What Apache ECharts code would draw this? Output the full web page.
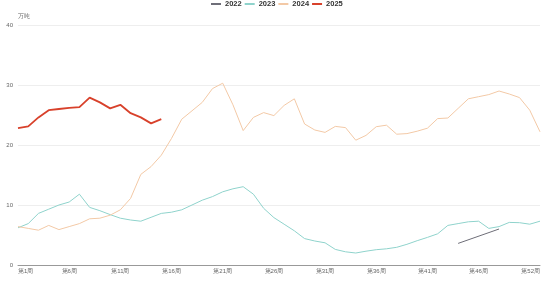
<!DOCTYPE html>
<html><head><meta charset="utf-8">
<script src="https://cdn.jsdelivr.net/npm/echarts@6/dist/echarts.min.js"></script>
<style>html,body{margin:0;padding:0;background:#fff}#c{width:553px;height:281px}</style>
</head><body><div id="c"></div>
<script>
var weeks = [];
for (var i = 1; i <= 52; i++) weeks.push('第' + i + '周');
var s2022 = [null,null,null,null,null,null,null,null,null,null,null,null,null,null,null,null,null,null,null,null,null,null,null,null,null,null,null,null,null,null,null,null,null,null,null,null,null,null,null,null,null,null,null,3.6,null,null,null,6.0,null,null,null,null];
var s2023 = [6.2,6.9,8.6,9.3,10.0,10.5,11.8,9.6,9.05,8.4,7.8,7.5,7.3,7.95,8.6,8.8,9.2,10.0,10.8,11.4,12.2,12.7,13.05,11.8,9.45,7.9,6.8,5.7,4.4,4.0,3.7,2.6,2.2,2.0,2.3,2.55,2.7,2.95,3.45,4.05,4.6,5.2,6.6,6.9,7.2,7.3,6.1,6.4,7.1,7.05,6.8,7.3];
var s2024 = [6.4,6.1,5.8,6.6,5.9,6.4,6.9,7.7,7.8,8.3,9.2,11.1,15.1,16.4,18.3,21.1,24.3,25.7,27.1,29.4,30.3,26.7,22.4,24.6,25.4,24.9,26.6,27.7,23.5,22.5,22.1,23.1,22.9,20.8,21.6,23.05,23.3,21.8,21.9,22.3,22.8,24.4,24.5,26.1,27.7,28.05,28.4,29.0,28.5,27.9,25.8,22.2];
var s2025 = [22.8,23.1,24.6,25.8,26.0,26.2,26.3,27.9,27.1,26.1,26.7,25.3,24.6,23.6,24.3];
var yTicks = [0,10,20,30,40];

var chart = echarts.init(document.getElementById('c'));
function mk(name, data, color, w) {
  return {name:name, type:'line', data:data, symbol:'none', showSymbol:false, connectNulls:true,
    lineStyle:{color:color, width:w}, itemStyle:{color:color}};
}
chart.setOption({
  animation:false,
  legend:{left:211, top:0, padding:0, itemWidth:10, itemHeight:2, itemGap:3, icon:'rect',
    textStyle:{fontSize:7.5, fontWeight:'bold', color:'#333', padding:[0,0,0,-1]},
    data:['2022','2023','2024','2025']},
  grid:{left:18, right:13, top:25, bottom:16, containLabel:false},
  xAxis:{type:'category', data:weeks, boundaryGap:false,
    axisLine:{lineStyle:{color:'#999'}}, axisTick:{show:false},
    axisLabel:{fontSize:6, color:'#666', margin:3,
      interval:function(i){return (i%5===0 && i!==50) || i===51;},
      alignMinLabel:'left', alignMaxLabel:'right'}},
  yAxis:{type:'value', min:yTicks[0], max:yTicks[yTicks.length-1], interval:10, name:'万吨',
    nameTextStyle:{fontSize:5.5, color:'#666', align:'left', padding:[0,0,0,0]}, nameGap:6,
    axisLabel:{fontSize:6, color:'#666', margin:5},
    splitLine:{lineStyle:{color:'#eee'}}},
  series:[mk('2022', s2022, '#6e6e78', 1), mk('2023', s2023, '#8fd3cc', 1), mk('2024', s2024, '#f3c9a6', 1), mk('2025', s2025, '#d8412b', 1.8)]
});
</script></body></html>
